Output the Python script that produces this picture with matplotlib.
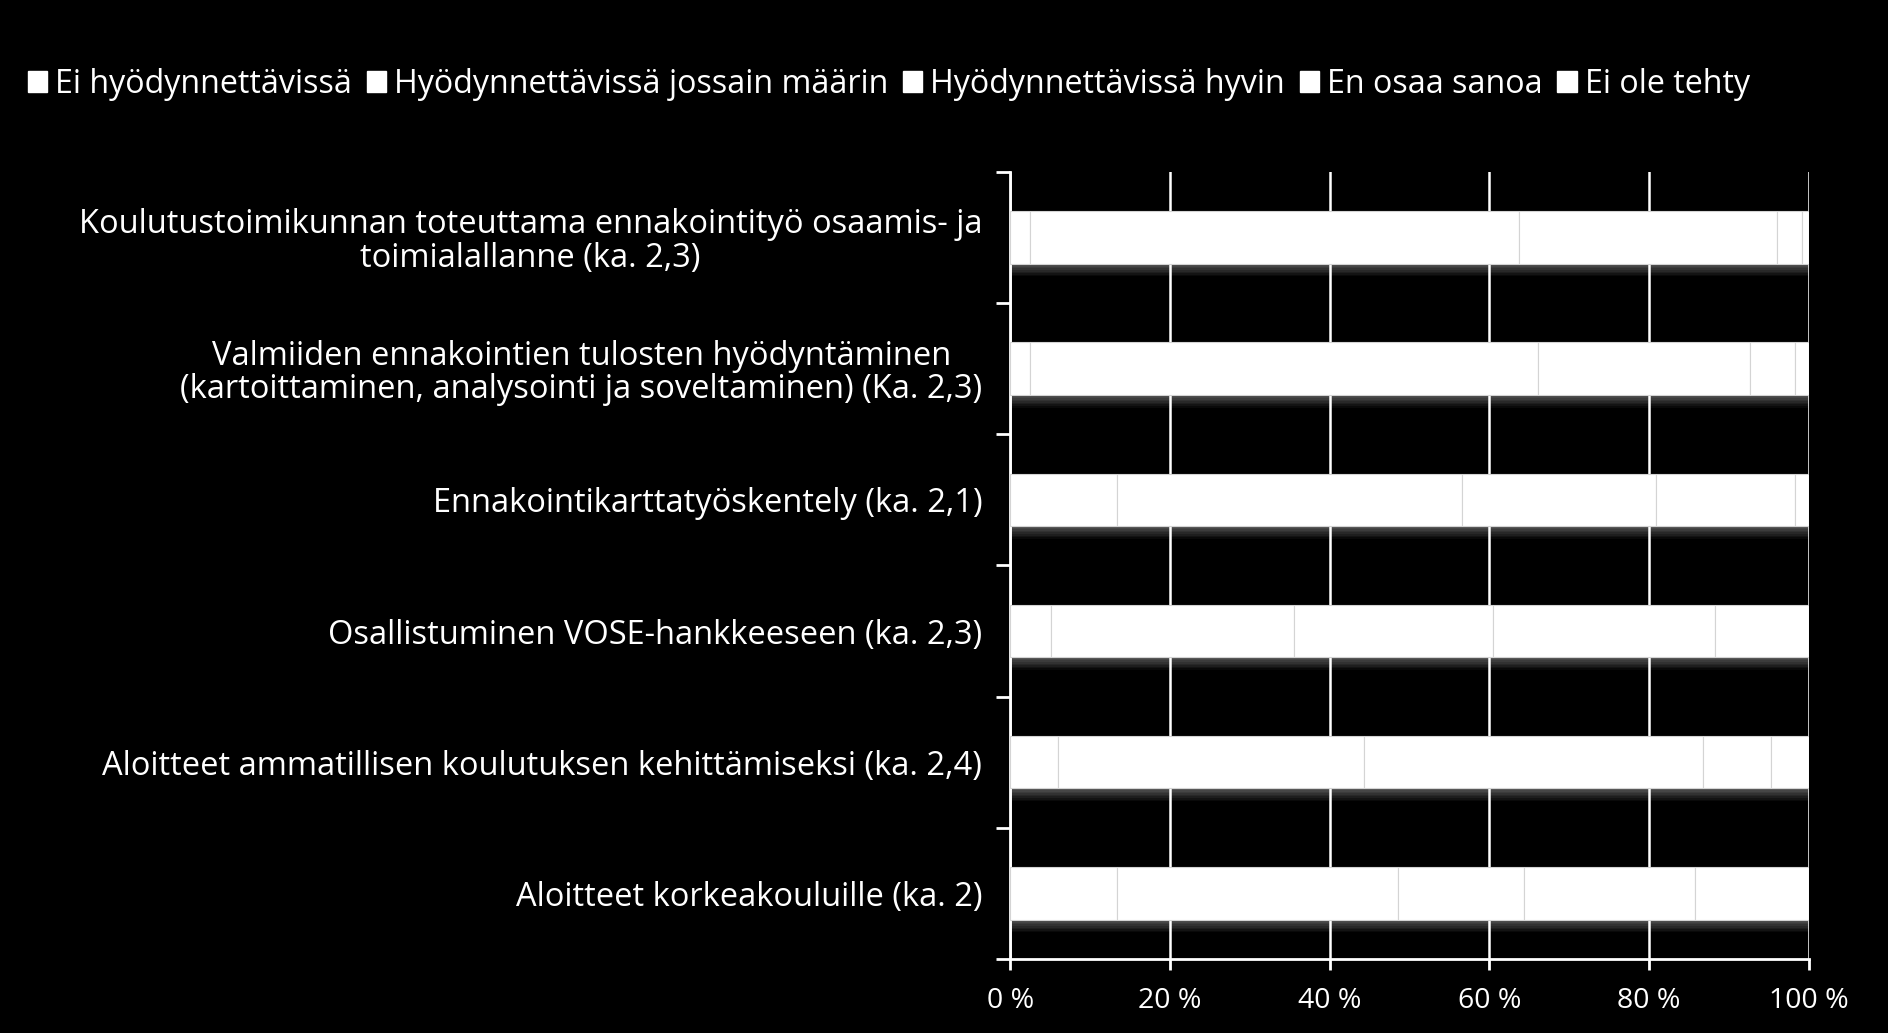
import numpy as np
import matplotlib.pyplot as plt
from matplotlib.patches import Patch

categories = [
    "Koulutustoimikunnan toteuttama ennakointityö osaamis- ja\ntoimialallanne (ka. 2,3)",
    "Valmiiden ennakointien tulosten hyödyntäminen\n(kartoittaminen, analysointi ja soveltaminen) (Ka. 2,3)",
    "Ennakointikarttatyöskentely (ka. 2,1)",
    "Osallistuminen VOSE-hankkeeseen (ka. 2,3)",
    "Aloitteet ammatillisen koulutuksen kehittämiseksi (ka. 2,4)",
    "Aloitteet korkeakouluille (ka. 2)",
]
series = ["Ei hyödynnettävissä", "Hyödynnettävissä jossain määrin",
          "Hyödynnettävissä hyvin", "En osaa sanoa", "Ei ole tehty"]
ei_hyod = [2.5, 2.5, 13.4, 5.1, 6.0, 13.4]
jossain = [61.2, 63.6, 43.2, 30.5, 38.3, 35.2]
hyvin = [32.3, 26.6, 24.3, 24.9, 42.5, 15.8]
en_osaa = [3.2, 5.6, 17.4, 27.8, 8.5, 21.4]
ei_tehty = [0.8, 1.7, 1.7, 11.7, 4.7, 14.2]
xticks = [0, 20, 40, 60, 80, 100]

data = np.array([ei_hyod, jossain, hyvin, en_osaa, ei_tehty])
totals = data.sum(axis=0)
y = np.arange(len(categories))
h = 0.4

plt.rcParams['font.family'] = ['Open Sans', 'DejaVu Sans']
fig = plt.figure(figsize=(18.88, 10.33), dpi=100, facecolor='black')
ax = fig.add_axes([0.535, 0.0716, 0.423, 0.762])
ax.set_facecolor('black')

# shadow under the bars
nstrip = 8
dy = 0.012
for k in range(nstrip):
    ax.barh(y + h / 2 + (k + 0.5) * dy, totals, height=dy, color='white',
            alpha=0.32 * (1 - k / nstrip), linewidth=0, zorder=1)

left = np.zeros(len(categories))
for vals, name in zip(data, series):
    ax.barh(y, vals, left=left, height=h, color='white', edgecolor='#d4d4d4',
            linewidth=0.8, label=name, zorder=3)
    left += vals

ax.set_xlim(0, 100)
ax.set_ylim(len(categories) - 0.5, -0.5)
ax.set_xticks(xticks)
ax.set_xticklabels([f"{t} %" for t in xticks])
ax.xaxis.grid(True, color='white', linewidth=1.8)
for gl in ax.get_xgridlines():
    gl.set_zorder(2)

ax.set_yticks(np.arange(-0.5, len(categories)), labels=[])
ax.set_yticks(y, minor=True)
ax.set_yticklabels(categories, minor=True, ha='right', multialignment='center',
                   linespacing=1.02)
ax.tick_params(axis='y', which='major', length=10, width=2, color='white', direction='out')
ax.tick_params(axis='y', which='minor', length=0, pad=20, labelsize=23.5,
               labelcolor='white')
ax.tick_params(axis='x', length=8, width=2, color='white', labelcolor='white',
               labelsize=20.5, pad=12)

for side in ['top', 'right']:
    ax.spines[side].set_visible(False)
for side in ['left', 'bottom']:
    ax.spines[side].set_color('white')
    ax.spines[side].set_linewidth(2)

handles = [Patch(facecolor='white', edgecolor='white') for _ in series]
fig.legend(handles, series, loc='upper left', bbox_to_anchor=(0.008, 0.947), ncol=5,
           frameon=False, fontsize=23.2, labelcolor='white', handlelength=0.6,
           handleheight=0.6, handletextpad=0.25, columnspacing=0.45, borderaxespad=0)

fig.savefig('out.png', dpi=100, facecolor='black')
